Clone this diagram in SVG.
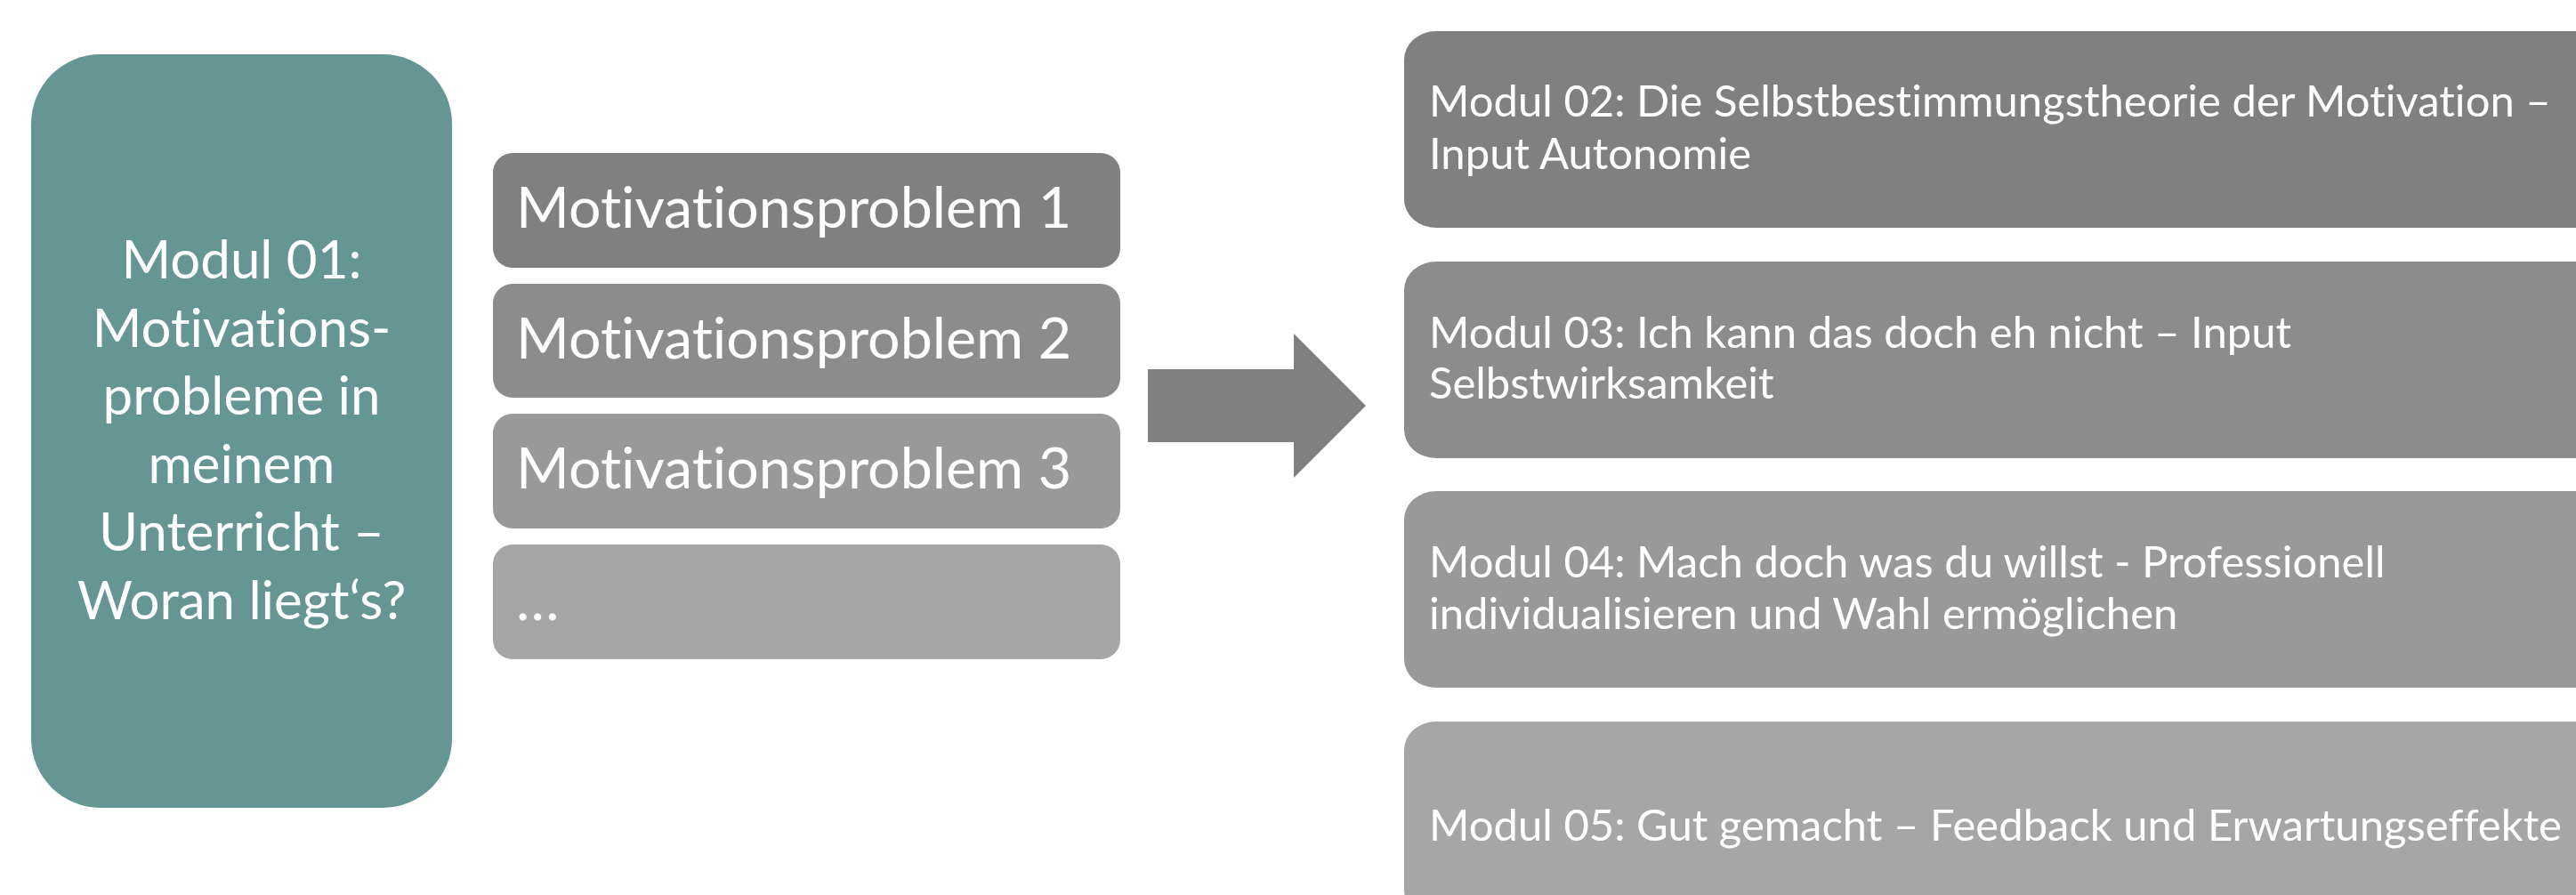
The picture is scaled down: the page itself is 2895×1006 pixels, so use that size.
<svg xmlns="http://www.w3.org/2000/svg" width="2895" height="1006" viewBox="0 0 2895 1006">
<style>
text { font-family: Lato, "Open Sans", "Liberation Sans", sans-serif; fill: #ffffff; font-variant-ligatures: none; font-feature-settings: "liga" 0, "clig" 0; }
.t1 { font-size: 60px; text-anchor: middle; }
.tp { font-size: 64.5px; }
.tm { font-size: 49px; }
.c1 { fill: #808080; }
.c2 { fill: #8c8c8c; }
.c3 { fill: #999999; }
.c4 { fill: #a6a6a6; }
</style>
<rect width="2895" height="1006" fill="#ffffff"/>
<g id="modul01">
  <rect x="35" y="61" width="473" height="847" rx="78" ry="78" fill="#659694"/>
  <text class="t1" x="271.5" y="313">Modul 01:</text>
  <text class="t1" x="271.5" y="389.6">Motivations-</text>
  <text class="t1" x="271.5" y="466.2">probleme in</text>
  <text class="t1" x="271.5" y="542.8">meinem</text>
  <text class="t1" x="271.5" y="619.4">Unterricht –</text>
  <text class="t1" x="271.5" y="696">Woran liegt‘s?</text>
</g>
<g id="problem1">
  <rect class="c1" x="554" y="172" width="705" height="129" rx="22"/>
  <text class="tp" x="580" y="256">Motivationsproblem 1</text>
</g>
<g id="problem2">
  <rect class="c2" x="554" y="319" width="705" height="128" rx="22"/>
  <text class="tp" x="580" y="403">Motivationsproblem 2</text>
</g>
<g id="problem3">
  <rect class="c3" x="554" y="465" width="705" height="129" rx="22"/>
  <text class="tp" x="580" y="549">Motivationsproblem 3</text>
</g>
<g id="problem4">
  <rect class="c4" x="554" y="612" width="705" height="129" rx="22"/>
  <text class="tp" x="580" y="697">…</text>
</g>
<g id="connectors">
  <polygon points="1290,415 1454,415 1454,375 1535,456 1454,537 1454,497 1290,497" fill="#808080"/>
</g>
<g id="modul02">
  <rect class="c1" x="1578" y="35" width="1370" height="221" rx="36" ry="32"/>
  <text class="tm" x="1606" y="131">Modul 02: Die Selbstbestimmungstheorie der Motivation –</text>
  <text class="tm" x="1606" y="189.5">Input Autonomie</text>
</g>
<g id="modul03">
  <rect class="c2" x="1578" y="294" width="1370" height="221" rx="36" ry="32"/>
  <text class="tm" x="1606" y="391">Modul 03: Ich kann das doch eh nicht – Input</text>
  <text class="tm" x="1606" y="448">Selbstwirksamkeit</text>
</g>
<g id="modul04">
  <rect class="c3" x="1578" y="552" width="1370" height="221" rx="36" ry="32"/>
  <text class="tm" x="1606" y="649">Modul 04: Mach doch was du willst - Professionell</text>
  <text class="tm" x="1606" y="707">individualisieren und Wahl ermöglichen</text>
</g>
<g id="modul05">
  <rect class="c4" x="1578" y="811" width="1370" height="221" rx="36" ry="32"/>
  <text class="tm" x="1606" y="945">Modul 05: Gut gemacht – Feedback und Erwartungseffekte</text>
</g>
</svg>
